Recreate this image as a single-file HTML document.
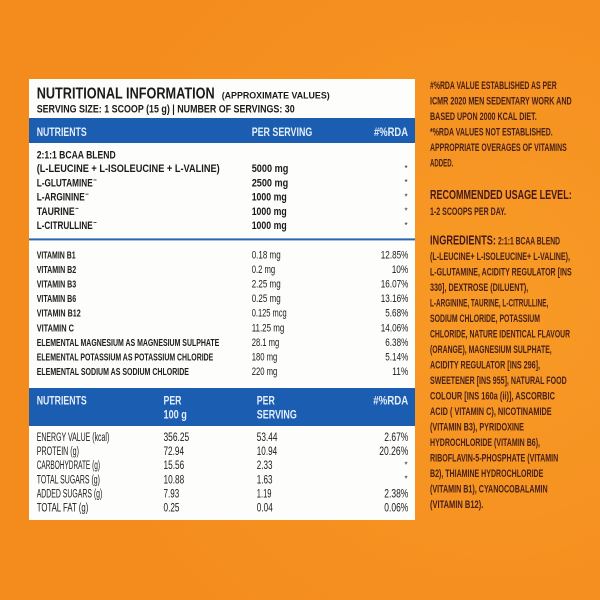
<!DOCTYPE html>
<html><head><meta charset="utf-8"><style>
html,body{margin:0;padding:0;width:600px;height:600px;overflow:hidden;background:#f6901f}
svg{display:block}
text{font-family:"Liberation Sans",sans-serif}
.b{font-weight:bold}
.t{fill:#1a1a1a}
.h{fill:#e4edf8;font-weight:bold;font-size:12px}
.r{fill:#48201a;font-weight:bold;font-size:10.6px}
.rh{fill:#43191c;font-weight:bold;font-size:13px}
</style></head><body>
<svg width="600" height="600" viewBox="0 0 600 600" xmlns="http://www.w3.org/2000/svg">
<defs>
<radialGradient id="bg" cx="0.82" cy="0.5" r="0.7">
<stop offset="0" stop-color="#f89a26"/>
<stop offset="1" stop-color="#f48c1d"/>
</radialGradient>
</defs>
<rect width="600" height="600" fill="url(#bg)"/>
<!-- white box -->
<rect x="29" y="79" width="386" height="441" fill="#fdfdfc"/>
<!-- Title -->
<text class="b t" x="36.7" y="98.5" font-size="15.5" textLength="178" lengthAdjust="spacingAndGlyphs">NUTRITIONAL INFORMATION</text>
<text class="b t" x="221.7" y="98.5" font-size="9.2" textLength="108" lengthAdjust="spacingAndGlyphs">(APPROXIMATE VALUES)</text>
<text class="b t" x="36.7" y="112.5" font-size="10.6" textLength="258" lengthAdjust="spacingAndGlyphs">SERVING SIZE: 1 SCOOP (15 g) | NUMBER OF SERVINGS: 30</text>
<!-- Header 1 -->
<rect x="29" y="118" width="386" height="25" fill="#1b5eb1"/>
<text class="h" x="36.7" y="136" textLength="50" lengthAdjust="spacingAndGlyphs">NUTRIENTS</text>
<text class="h" x="251.7" y="136" textLength="60.6" lengthAdjust="spacingAndGlyphs">PER SERVING</text>
<text class="h" x="374" y="136" textLength="34" lengthAdjust="spacingAndGlyphs">#%RDA</text>
<!-- Table 1 rows -->
<g class="b t" font-size="11">
<text x="36.7" y="158.3" textLength="79" lengthAdjust="spacingAndGlyphs">2:1:1 BCAA BLEND</text>
<text x="36.7" y="172.2" textLength="183" lengthAdjust="spacingAndGlyphs">(L-LEUCINE + L-ISOLEUCINE + L-VALINE)</text>
<text x="36.7" y="186.4" textLength="56" lengthAdjust="spacingAndGlyphs">L-GLUTAMINE</text>
<text x="36.7" y="200.6" textLength="48" lengthAdjust="spacingAndGlyphs">L-ARGININE</text>
<text x="36.7" y="214.8" textLength="38" lengthAdjust="spacingAndGlyphs">TAURINE</text>
<text x="36.7" y="229" textLength="56" lengthAdjust="spacingAndGlyphs">L-CITRULLINE</text>
<text x="251.7" y="172.2" textLength="36.6" lengthAdjust="spacingAndGlyphs">5000 mg</text>
<text x="251.7" y="186.4" textLength="36.5" lengthAdjust="spacingAndGlyphs">2500 mg</text>
<text x="251.7" y="200.6" textLength="35" lengthAdjust="spacingAndGlyphs">1000 mg</text>
<text x="251.7" y="214.8" textLength="35" lengthAdjust="spacingAndGlyphs">1000 mg</text>
<text x="251.7" y="229" textLength="35" lengthAdjust="spacingAndGlyphs">1000 mg</text>
</g>
<g fill="#333">
<rect x="93.5" y="179.5" width="3" height="0.9"/>
<rect x="85.5" y="193.7" width="3" height="0.9"/>
<rect x="75.5" y="207.9" width="3" height="0.9"/>
<rect x="93.5" y="222.1" width="3" height="0.9"/>
</g>
<g class="t" font-size="8" text-anchor="middle">
<text x="406" y="171">*</text>
<text x="406" y="185.2">*</text>
<text x="406" y="199.4">*</text>
<text x="406" y="213.6">*</text>
<text x="406" y="227.8">*</text>
</g>
<!-- blue separator -->
<rect x="29" y="238.4" width="386" height="2" fill="#2a66b0"/>
<!-- Vitamin rows -->
<g class="t" font-size="10.4" font-weight="bold" style="fill:#202020">
<text x="36.7" y="258.3" textLength="39" lengthAdjust="spacingAndGlyphs">VITAMIN B1</text>
<text x="36.7" y="272.9" textLength="39.5" lengthAdjust="spacingAndGlyphs">VITAMIN B2</text>
<text x="36.7" y="287.5" textLength="39.5" lengthAdjust="spacingAndGlyphs">VITAMIN B3</text>
<text x="36.7" y="302.1" textLength="39.5" lengthAdjust="spacingAndGlyphs">VITAMIN B6</text>
<text x="36.7" y="316.7" textLength="44" lengthAdjust="spacingAndGlyphs">VITAMIN B12</text>
<text x="36.7" y="331.3" textLength="37.3" lengthAdjust="spacingAndGlyphs">VITAMIN C</text>
<text x="36.7" y="345.9" textLength="182.6" lengthAdjust="spacingAndGlyphs">ELEMENTAL MAGNESIUM AS MAGNESIUM SULPHATE</text>
<text x="36.7" y="360.5" textLength="176.6" lengthAdjust="spacingAndGlyphs">ELEMENTAL POTASSIUM AS POTASSIUM CHLORIDE</text>
<text x="36.7" y="375.1" textLength="152.3" lengthAdjust="spacingAndGlyphs">ELEMENTAL SODIUM AS SODIUM CHLORIDE</text>
</g>
<g class="t" font-size="10.8">
<text x="251.7" y="258.3" textLength="29" lengthAdjust="spacingAndGlyphs">0.18 mg</text>
<text x="251.7" y="272.9" textLength="23.5" lengthAdjust="spacingAndGlyphs">0.2 mg</text>
<text x="251.7" y="287.5" textLength="29" lengthAdjust="spacingAndGlyphs">2.25 mg</text>
<text x="251.7" y="302.1" textLength="29" lengthAdjust="spacingAndGlyphs">0.25 mg</text>
<text x="251.7" y="316.7" textLength="35" lengthAdjust="spacingAndGlyphs">0.125 mcg</text>
<text x="251.7" y="331.3" textLength="32.6" lengthAdjust="spacingAndGlyphs">11.25 mg</text>
<text x="251.7" y="345.9" textLength="27.6" lengthAdjust="spacingAndGlyphs">28.1 mg</text>
<text x="251.7" y="360.5" textLength="25.6" lengthAdjust="spacingAndGlyphs">180 mg</text>
<text x="251.7" y="375.1" textLength="25.6" lengthAdjust="spacingAndGlyphs">220 mg</text>
</g>
<g class="t" font-size="10.8" text-anchor="end">
<text x="408.3" y="258.3" textLength="27.5" lengthAdjust="spacingAndGlyphs">12.85%</text>
<text x="408.3" y="272.9" textLength="16.6" lengthAdjust="spacingAndGlyphs">10%</text>
<text x="408.3" y="287.5" textLength="27.5" lengthAdjust="spacingAndGlyphs">16.07%</text>
<text x="408.3" y="302.1" textLength="27.5" lengthAdjust="spacingAndGlyphs">13.16%</text>
<text x="408.3" y="316.7" textLength="23" lengthAdjust="spacingAndGlyphs">5.68%</text>
<text x="408.3" y="331.3" textLength="27.5" lengthAdjust="spacingAndGlyphs">14.06%</text>
<text x="408.3" y="345.9" textLength="23" lengthAdjust="spacingAndGlyphs">6.38%</text>
<text x="408.3" y="360.5" textLength="23" lengthAdjust="spacingAndGlyphs">5.14%</text>
<text x="408.3" y="375.1" textLength="16" lengthAdjust="spacingAndGlyphs">11%</text>
</g>
<!-- Header 2 -->
<rect x="29" y="388" width="386" height="38" fill="#1b5eb1"/>
<text class="h" x="36.7" y="404.3" textLength="50" lengthAdjust="spacingAndGlyphs">NUTRIENTS</text>
<text class="h" x="163.5" y="404.3" textLength="18" lengthAdjust="spacingAndGlyphs">PER</text>
<text class="h" x="163.5" y="418.5" textLength="23.3" lengthAdjust="spacingAndGlyphs">100 g</text>
<text class="h" x="256.8" y="404.3" textLength="18" lengthAdjust="spacingAndGlyphs">PER</text>
<text class="h" x="256.8" y="418.5" textLength="40" lengthAdjust="spacingAndGlyphs">SERVING</text>
<text class="h" x="408.3" y="404.3" text-anchor="end" textLength="35" lengthAdjust="spacingAndGlyphs">#%RDA</text>
<!-- Table 3 rows -->
<g class="t" font-size="11.5">
<text x="36.7" y="441" textLength="72.6" lengthAdjust="spacingAndGlyphs">ENERGY VALUE (kcal)</text>
<text x="36.7" y="455.1" textLength="42.3" lengthAdjust="spacingAndGlyphs">PROTEIN (g)</text>
<text x="36.7" y="469.2" textLength="63.3" lengthAdjust="spacingAndGlyphs">CARBOHYDRATE (g)</text>
<text x="36.7" y="483.3" textLength="63.3" lengthAdjust="spacingAndGlyphs">TOTAL SUGARS (g)</text>
<text x="36.7" y="497.4" textLength="65.6" lengthAdjust="spacingAndGlyphs">ADDED SUGARS (g)</text>
<text x="36.7" y="511.5" textLength="51.6" lengthAdjust="spacingAndGlyphs">TOTAL FAT (g)</text>
<text x="163.5" y="441" textLength="25.7" lengthAdjust="spacingAndGlyphs">356.25</text>
<text x="163.5" y="455.1" textLength="20.5" lengthAdjust="spacingAndGlyphs">72.94</text>
<text x="163.5" y="469.2" textLength="20.7" lengthAdjust="spacingAndGlyphs">15.56</text>
<text x="163.5" y="483.3" textLength="20.7" lengthAdjust="spacingAndGlyphs">10.88</text>
<text x="163.5" y="497.4" textLength="15.7" lengthAdjust="spacingAndGlyphs">7.93</text>
<text x="163.5" y="511.5" textLength="16" lengthAdjust="spacingAndGlyphs">0.25</text>
<text x="256.8" y="441" textLength="20.6" lengthAdjust="spacingAndGlyphs">53.44</text>
<text x="256.8" y="455.1" textLength="20.3" lengthAdjust="spacingAndGlyphs">10.94</text>
<text x="256.8" y="469.2" textLength="15.7" lengthAdjust="spacingAndGlyphs">2.33</text>
<text x="256.8" y="483.3" textLength="15.7" lengthAdjust="spacingAndGlyphs">1.63</text>
<text x="256.8" y="497.4" textLength="14.7" lengthAdjust="spacingAndGlyphs">1.19</text>
<text x="256.8" y="511.5" textLength="16" lengthAdjust="spacingAndGlyphs">0.04</text>
</g>
<g class="t" font-size="11.5" text-anchor="end">
<text x="408.3" y="441" textLength="24" lengthAdjust="spacingAndGlyphs">2.67%</text>
<text x="408.3" y="455.1" textLength="29" lengthAdjust="spacingAndGlyphs">20.26%</text>
<text x="408.3" y="497.4" textLength="24" lengthAdjust="spacingAndGlyphs">2.38%</text>
<text x="408.3" y="511.5" textLength="24" lengthAdjust="spacingAndGlyphs">0.06%</text>
</g>
<g class="t" font-size="8" text-anchor="middle">
<text x="406" y="467.5">*</text>
<text x="406" y="481.5">*</text>
</g>
<!-- Right column -->
<text class="r" x="430" y="89" textLength="126.7" lengthAdjust="spacingAndGlyphs">#%RDA VALUE ESTABLISHED AS PER</text>
<text class="r" x="430" y="104.5" textLength="141.7" lengthAdjust="spacingAndGlyphs">ICMR 2020 MEN SEDENTARY WORK AND</text>
<text class="r" x="430" y="120" textLength="106.7" lengthAdjust="spacingAndGlyphs">BASED UPON 2000 KCAL DIET.</text>
<text class="r" x="430" y="135.5" textLength="122.7" lengthAdjust="spacingAndGlyphs">*%RDA VALUES NOT ESTABLISHED.</text>
<text class="r" x="430" y="151" textLength="136.7" lengthAdjust="spacingAndGlyphs">APPROPRIATE OVERAGES OF VITAMINS</text>
<text class="r" x="430" y="166.5" textLength="23.3" lengthAdjust="spacingAndGlyphs">ADDED.</text>
<text class="rh" x="430" y="199" textLength="141.7" lengthAdjust="spacingAndGlyphs">RECOMMENDED USAGE LEVEL:</text>
<text class="r" x="430" y="215" textLength="76" lengthAdjust="spacingAndGlyphs">1-2 SCOOPS PER DAY.</text>
<text class="rh" x="430" y="244.5" textLength="66" lengthAdjust="spacingAndGlyphs">INGREDIENTS:</text>
<text class="r" x="498" y="244.5" textLength="62" lengthAdjust="spacingAndGlyphs">2:1:1 BCAA BLEND</text>
<text class="r" x="430" y="260" textLength="140" lengthAdjust="spacingAndGlyphs">(L-LEUCINE+ L-ISOLEUCINE+ L-VALINE),</text>
<text class="r" x="430" y="275.5" textLength="141.7" lengthAdjust="spacingAndGlyphs">L-GLUTAMINE, ACIDITY REGULATOR [INS</text>
<text class="r" x="430" y="291" textLength="98.3" lengthAdjust="spacingAndGlyphs">330], DEXTROSE (DILUENT),</text>
<text class="r" x="430" y="306.5" textLength="118.3" lengthAdjust="spacingAndGlyphs">L-ARGININE, TAURINE, L-CITRULLINE,</text>
<text class="r" x="430" y="322" textLength="110" lengthAdjust="spacingAndGlyphs">SODIUM CHLORIDE, POTASSIUM</text>
<text class="r" x="430" y="337.5" textLength="140" lengthAdjust="spacingAndGlyphs">CHLORIDE, NATURE IDENTICAL FLAVOUR</text>
<text class="r" x="430" y="353" textLength="121.7" lengthAdjust="spacingAndGlyphs">(ORANGE), MAGNESIUM SULPHATE,</text>
<text class="r" x="430" y="368.5" textLength="110" lengthAdjust="spacingAndGlyphs">ACIDITY REGULATOR [INS 296],</text>
<text class="r" x="430" y="384" textLength="136.7" lengthAdjust="spacingAndGlyphs">SWEETENER [INS 955], NATURAL FOOD</text>
<text class="r" x="430" y="399.5" textLength="125" lengthAdjust="spacingAndGlyphs">COLOUR [INS 160a (ii)], ASCORBIC</text>
<text class="r" x="430" y="415" textLength="121.7" lengthAdjust="spacingAndGlyphs">ACID ( VITAMIN C), NICOTINAMIDE</text>
<text class="r" x="430" y="430.5" textLength="94" lengthAdjust="spacingAndGlyphs">(VITAMIN B3), PYRIDOXINE</text>
<text class="r" x="430" y="446" textLength="110" lengthAdjust="spacingAndGlyphs">HYDROCHLORIDE (VITAMIN B6),</text>
<text class="r" x="430" y="461.5" textLength="128.3" lengthAdjust="spacingAndGlyphs">RIBOFLAVIN-5-PHOSPHATE (VITAMIN</text>
<text class="r" x="430" y="477" textLength="113.3" lengthAdjust="spacingAndGlyphs">B2), THIAMINE HYDROCHLORIDE</text>
<text class="r" x="430" y="492.5" textLength="117.7" lengthAdjust="spacingAndGlyphs">(VITAMIN B1), CYANOCOBALAMIN</text>
<text class="r" x="430" y="508" textLength="53.3" lengthAdjust="spacingAndGlyphs">(VITAMIN B12).</text>
</svg>
</body></html>
